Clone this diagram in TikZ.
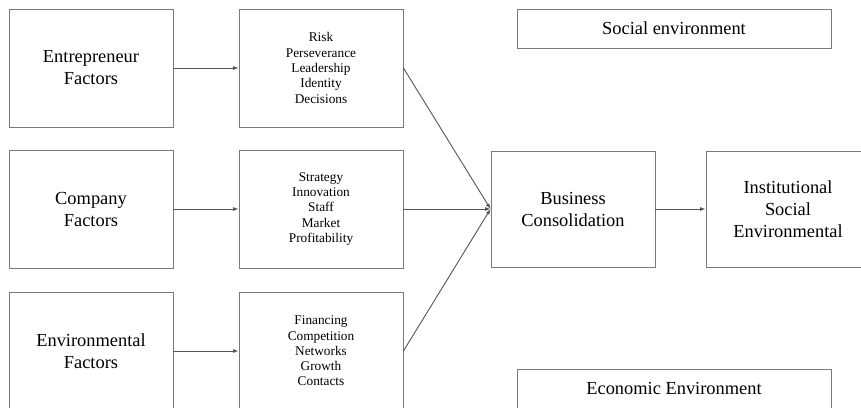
\documentclass[tikz,border=0pt]{standalone}
\usepackage{fontspec}
\setmainfont{Liberation Serif}
\usepackage{tikz}
\usetikzlibrary{arrows.meta,positioning}
\usepackage{xcolor}
\definecolor{mgray}{HTML}{7A7A7A}
\definecolor{lgray}{HTML}{555555}
\tikzstyle{l1}=[line width=0.9]
\tikzstyle{box}=[rectangle, draw=mgray, l1, minimum width=164pt, minimum height=118pt, inner sep=0pt, align=center, font=\fontsize{18.4}{22}\selectfont]
\tikzstyle{lbox}=[box, font=\fontsize{13.3}{15.3}\selectfont]
\tikzstyle{wbox}=[box, minimum width=314pt, minimum height=39pt]
\tikzstyle{conn}=[l1, draw=lgray, -{Latex[length=5.5pt,width=4pt]}]

\begin{document}
\begin{tikzpicture}[x=1pt, y=-1pt]
    \useasboundingbox (0,0) rectangle (861,407);
    \clip (0,0) rectangle (861,407);

    % factors
    \node[box] at (91,68) (ent) {Entrepreneur\\Factors};
    \node[box] at (91,209) (comp) {Company\\Factors};
    \node[box] at (91,351) (env) {Environmental\\Factors};

    % items
    \node[lbox] at (321,68) (risk) {Risk\\Perseverance\\Leadership\\Identity\\Decisions};
    \node[lbox] at (321,209) (strat) {Strategy\\Innovation\\Staff\\Market\\Profitability};
    \node[lbox] at (321,351) (fin) {Financing\\Competition\\Networks\\Growth\\Contacts};

    % outcome
    \node[box, minimum height=116pt] at (573,209) (bus) {Business\\Consolidation};
    \node[box, minimum height=116pt] at (788,209) (inst) {Institutional\\Social\\Environmental};

    \node[wbox] at (674,28.5) (soc) {Social environment};
    \node[wbox] at (674,388.5) (eco) {Economic Environment};

    \draw[conn] (ent) -- (risk);
    \draw[conn] (comp) -- (strat);
    \draw[conn] (env) -- (fin);
    \draw[conn] (risk.east) -- (bus.west);
    \draw[conn] (strat.east) -- (bus.west);
    \draw[conn] (fin.east) -- (bus.west);
    \draw[conn] (bus) -- (inst);
\end{tikzpicture}
\end{document}
